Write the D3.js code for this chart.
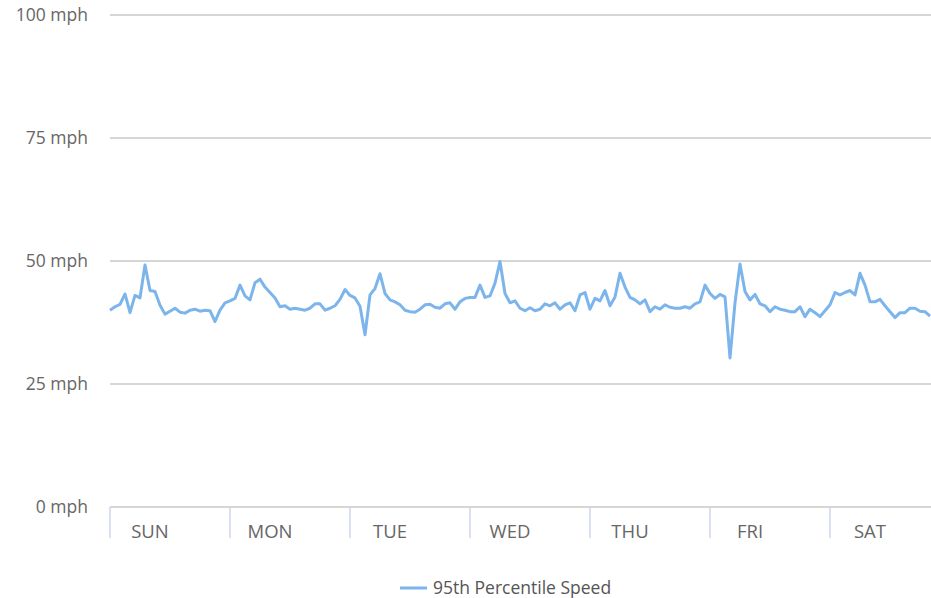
<!DOCTYPE html>
<html>
<head>
<meta charset="utf-8">
<script src="https://cdn.jsdelivr.net/npm/d3@7"></script>
<style>
  body { margin: 0; background: #fff; }
  svg text { font-family: "Open Sans", "Noto Sans", sans-serif; }
</style>
</head>
<body>
<div id="chart-area"></div>
<script>
// Day labels (one per 24 hourly points)
var days = ["SUN", "MON", "TUE", "WED", "THU", "FRI", "SAT"];

// y-axis ticks (mph)
var yTicks = [0, 25, 50, 75, 100];

// 95th percentile speed, hourly
var sun = [40.0, 40.7, 41.2, 43.3, 39.5, 43.0, 42.5, 49.2, 44.0, 43.8, 41.0, 39.2,
           39.8, 40.4, 39.6, 39.4, 40.0, 40.2, 39.8, 40.0, 39.9, 37.7, 40.0, 41.5];
var mon = [41.9, 42.4, 45.1, 42.9, 42.1, 45.6, 46.3, 44.7, 43.6, 42.5, 40.7, 40.9,
           40.2, 40.4, 40.2, 40.0, 40.4, 41.3, 41.3, 40.0, 40.4, 40.9, 42.2, 44.2];
var tue = [43.0, 42.5, 40.8, 35.0, 43.1, 44.4, 47.4, 43.4, 42.1, 41.7, 41.1, 40.0,
           39.7, 39.6, 40.2, 41.1, 41.2, 40.6, 40.4, 41.3, 41.5, 40.2, 41.7, 42.4];
var wed = [42.6, 42.6, 45.1, 42.6, 42.9, 45.5, 49.9, 43.4, 41.5, 41.9, 40.4, 39.9,
           40.5, 39.9, 40.2, 41.3, 40.9, 41.5, 40.2, 41.1, 41.5, 39.9, 43.1, 43.6];
var thu = [40.2, 42.4, 41.9, 44.0, 40.9, 42.7, 47.5, 44.7, 42.6, 42.1, 41.3, 42.1,
           39.7, 40.7, 40.2, 41.1, 40.6, 40.4, 40.4, 40.7, 40.4, 41.3, 41.7, 45.1];
var fri = [43.4, 42.4, 43.2, 42.7, 30.3, 41.5, 49.4, 43.8, 42.1, 43.2, 41.3, 40.9,
           39.7, 40.7, 40.2, 40.0, 39.7, 39.7, 40.7, 38.7, 40.2, 39.5, 38.7, 39.9];
var sat = [41.1, 43.6, 43.1, 43.6, 44.0, 43.1, 47.5, 45.1, 41.7, 41.7, 42.2, 40.9,
           39.7, 38.5, 39.5, 39.5, 40.4, 40.4, 39.8, 39.7, 38.8];

var speeds = [].concat(sun, mon, tue, wed, thu, fri, sat);

var width = 931, height = 598;
var margin = { left: 110, top: 15, bottom: 91 };

var svg = d3.select("#chart-area").append("svg")
    .attr("width", width)
    .attr("height", height);

// Scales: 24 hours per day, each day 120px wide (runs past the right edge)
var x = d3.scaleLinear().domain([0, 168]).range([margin.left, margin.left + 840]);
var y = d3.scaleLinear().domain([0, 100]).range([height - margin.bottom, margin.top]);

// Gridlines
svg.append("g")
    .selectAll("line")
    .data(yTicks)
    .enter().append("line")
    .attr("x1", margin.left)
    .attr("x2", width)
    .attr("y1", function(d) { return y(d); })
    .attr("y2", function(d) { return y(d); })
    .attr("stroke", "#c8c8c8")
    .attr("stroke-width", 1.5);

// y labels
svg.append("g")
    .selectAll("text")
    .data(yTicks)
    .enter().append("text")
    .attr("x", 88)
    .attr("y", function(d) { return y(d); })
    .attr("dy", "0.35em")
    .attr("text-anchor", "end")
    .attr("fill", "#666")
    .attr("font-size", "17.5px")
    .text(function(d) { return d + " mph"; });

// x axis: day ticks
var xAxis = svg.append("g").attr("class", "x axis");

xAxis.selectAll("line")
    .data(days)
    .enter().append("line")
    .attr("x1", function(d, i) { return x(i * 24); })
    .attr("x2", function(d, i) { return x(i * 24); })
    .attr("y1", y(0))
    .attr("y2", y(0) + 31)
    .attr("stroke", "#ccd6eb")
    .attr("stroke-width", 1.5);

xAxis.selectAll("text")
    .data(days)
    .enter().append("text")
    .attr("x", function(d, i) { return x(i * 24 + 8); })
    .attr("y", y(0) + 31)
    .attr("text-anchor", "middle")
    .attr("fill", "#666")
    .attr("font-size", "18.5px")
    .text(function(d) { return d; });

// Line
var line = d3.line()
    .x(function(d, i) { return x(i); })
    .y(function(d) { return y(d); });

svg.append("path")
    .datum(speeds)
    .attr("fill", "none")
    .attr("stroke", "#7cb5ec")
    .attr("stroke-width", 3)
    .attr("stroke-linejoin", "round")
    .attr("d", line);

// Legend
var legend = svg.append("g").attr("transform", "translate(400,588)");
legend.append("line")
    .attr("x1", 0).attr("x2", 27)
    .attr("stroke", "#7cb5ec")
    .attr("stroke-width", 3);
legend.append("text")
    .attr("x", 33)
    .attr("dy", "0.35em")
    .attr("fill", "#555")
    .attr("font-size", "17.5px")
    .text("95th Percentile Speed");
</script>
</body>
</html>
